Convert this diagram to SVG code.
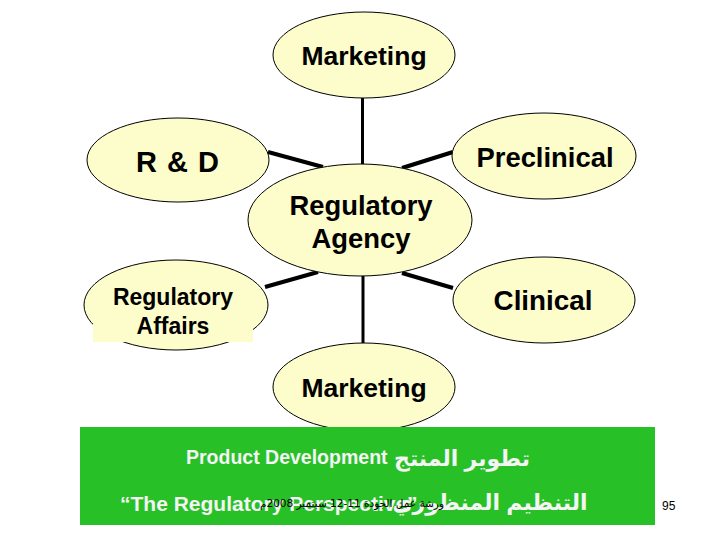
<svg xmlns="http://www.w3.org/2000/svg" width="720" height="540" viewBox="0 0 720 540">
<style>
.n{fill:#fdfccb;stroke:#000;stroke-width:1}
.t{font-family:"Liberation Sans",Arial,sans-serif;font-weight:bold;fill:#000;text-anchor:middle}
.c{stroke:#000;stroke-linecap:butt;fill:none}
.w{font-family:"Liberation Sans","DejaVu Sans",Arial,sans-serif;font-weight:bold;fill:#f4f4f4}
</style>
<rect width="720" height="540" fill="#fff"/>
<g id="connectors">
<line class="c" x1="362.5" y1="98" x2="362.5" y2="164" stroke-width="3"/>
<line class="c" x1="268" y1="152" x2="323" y2="167" stroke-width="4"/>
<line class="c" x1="402" y1="168" x2="453" y2="152" stroke-width="4"/>
<line class="c" x1="265" y1="287" x2="318" y2="272" stroke-width="4"/>
<line class="c" x1="402" y1="273" x2="453" y2="288" stroke-width="4"/>
<line class="c" x1="363" y1="276" x2="363" y2="343" stroke-width="3"/>
</g>
<g id="marketing-top">
<ellipse class="n" cx="364" cy="55" rx="91" ry="43"/>
<text class="t" x="364" y="65" font-size="26.5">Marketing</text>
</g>
<g id="rd">
<ellipse class="n" cx="178" cy="160" rx="91" ry="42"/>
<text class="t" x="178" y="172" font-size="29" letter-spacing="1">R &amp; D</text>
</g>
<g id="preclinical">
<ellipse class="n" cx="544" cy="156" rx="92" ry="43"/>
<text class="t" x="545" y="167" font-size="27.4">Preclinical</text>
</g>
<g id="regulatory-agency">
<ellipse class="n" cx="360" cy="220" rx="112" ry="56"/>
<text class="t" x="361" y="215" font-size="27.4">Regulatory</text>
<text class="t" x="361" y="248" font-size="27.4">Agency</text>
</g>
<g id="regulatory-affairs">
<ellipse class="n" cx="176" cy="305" rx="92" ry="45"/>
<rect x="93" y="318" width="160" height="24" fill="#fdfccb"/>
<text class="t" x="173" y="305" font-size="23">Regulatory</text>
<text class="t" x="173" y="334" font-size="23">Affairs</text>
</g>
<g id="clinical">
<ellipse class="n" cx="544" cy="300" rx="91" ry="43"/>
<text class="t" x="543" y="310" font-size="27.8">Clinical</text>
</g>
<g id="marketing-bottom">
<ellipse class="n" cx="364" cy="387" rx="91" ry="44"/>
<text class="t" x="364" y="397" font-size="26.5">Marketing</text>
</g>
<g id="banner">
<rect x="80" y="427" width="575" height="98" fill="#27c127"/>
<text class="w" x="186" y="464" font-size="19.5">Product Development</text>
<text class="w" x="462" y="466" font-size="22" text-anchor="middle" direction="rtl">تطوير المنتج</text>
<text class="w" x="120" y="511" font-size="21">“The Regulatory Perspective”</text>
<text class="w" x="490" y="510" font-size="22" text-anchor="middle" direction="rtl">التنظيم المنظوري</text>
<text x="352" y="507" font-size="10.5" font-family="'DejaVu Sans','Liberation Sans',sans-serif" fill="#000" text-anchor="middle" direction="rtl">ورشة عمل الجودة 11-12 سبتمبر 2008م</text>
</g>
<text x="662" y="510" font-size="12" font-family="'Liberation Sans',Arial,sans-serif" fill="#000">95</text>
</svg>
